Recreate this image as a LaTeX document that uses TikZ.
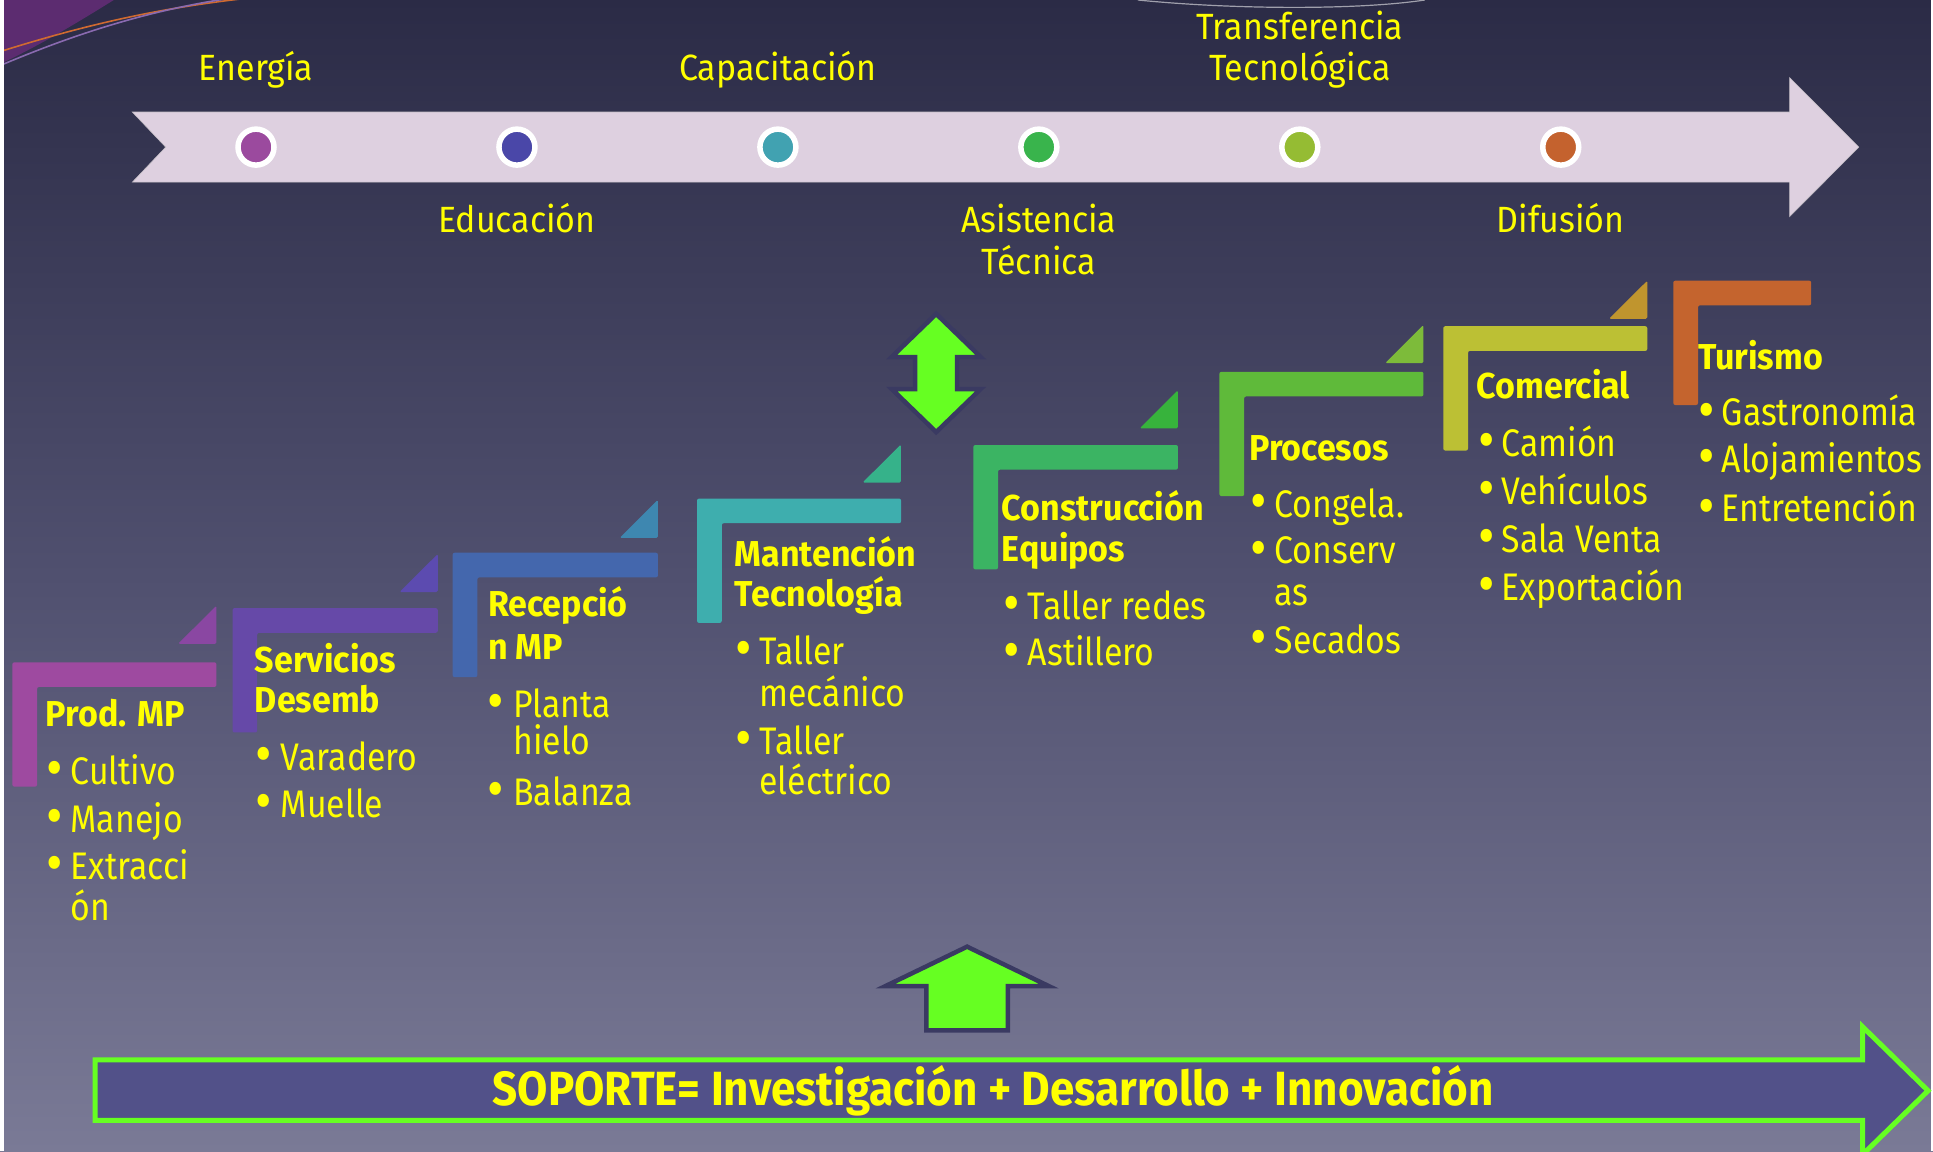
\documentclass[tikz,border=0pt]{standalone}
\usepackage{fontspec}
\setmainfont{Fira Sans}[FakeStretch=0.88]
\newfontfamily\lblfont{Fira Sans}[FakeStretch=0.93]
\newfontfamily\ttlfont{Fira Sans}[FakeStretch=0.945]
\newfontfamily\sopfont{Fira Sans}[FakeStretch=0.915]
\definecolor{bgtop}{HTML}{2B2B46}
\definecolor{bgmid}{HTML}{50506F}
\definecolor{bgbot}{HTML}{7A7A96}
\definecolor{ribbon}{HTML}{DED0E0}
\definecolor{txt}{HTML}{FFFF00}
\definecolor{neon}{HTML}{66FF22}
\definecolor{arrowedge}{HTML}{3A3A62}
\definecolor{soporte}{HTML}{525189}
\definecolor{swoosh}{HTML}{5C2C70}
\definecolor{lorange}{HTML}{D06A30}
\definecolor{llav}{HTML}{8A6AB0}
\definecolor{c1}{HTML}{9B4A9E}
\definecolor{c2}{HTML}{4A47A8}
\definecolor{c3}{HTML}{41A2B1}
\definecolor{c4}{HTML}{39B44C}
\definecolor{c5}{HTML}{95BC33}
\definecolor{c6}{HTML}{C4622E}
\definecolor{s1}{HTML}{9E4AA0}\definecolor{t1}{HTML}{8A47A2}
\definecolor{s2}{HTML}{6649A8}\definecolor{t2}{HTML}{5C4BB0}
\definecolor{s3}{HTML}{4467AD}\definecolor{t3}{HTML}{3E87B0}
\definecolor{s4}{HTML}{3EAEAE}\definecolor{t4}{HTML}{36B28A}
\definecolor{s5}{HTML}{3BB463}\definecolor{t5}{HTML}{37B33C}
\definecolor{s6}{HTML}{5FBA3A}\definecolor{t6}{HTML}{7DBB3A}
\definecolor{s7}{HTML}{BCC034}\definecolor{t7}{HTML}{C0952E}
\definecolor{s8}{HTML}{C4642E}
\newcommand\stepL[4]{% x y len color
  \fill[#4, rounded corners=2] (#1,#2) -- ++(#3,0) -- ++(0,20) -- ++(-#3+20,0) -- ++(0,81) -- ++(-20,0) -- cycle;}
\newcommand\stepT[3]{% right bottom color
  \fill[#3, rounded corners=1.5] (#1,#2) -- ++(-31,0) -- ++(31,-31) -- cycle;}
\newcommand\bigbul{\raisebox{-3.2pt}{\scalebox{1.5}{\textbullet}}}
\begin{document}
\begin{tikzpicture}[x=1.2367pt,y=-1.231pt,
 lbl/.style={text=txt, font=\lblfont\fontsize{36.5}{40}\selectfont, inner sep=0, anchor=base, text height=26pt, text depth=8pt},
 ttl/.style={text=txt, font=\ttlfont\bfseries\fontsize{36}{40}\selectfont, inner sep=0, anchor=base west, text height=26pt, text depth=8pt},
 itm/.style={text=txt, font=\fontsize{38.4}{44}\selectfont, inner sep=0, anchor=base west, text height=28pt, text depth=8pt},
 bul/.style={text=txt, font=\fontsize{38.4}{44}\selectfont, inner sep=0, anchor=base, text height=20pt, text depth=0pt},
 dot/.style={circle, draw=white, line width=5.5pt, minimum size=36pt, inner sep=0},
 bigarrow/.style={fill=neon, draw=arrowedge, line width=4.5pt, line join=miter},
 soparrow/.style={fill=soporte, draw=neon, line width=5pt, line join=miter}]
\useasboundingbox (0,0) rectangle (1563,935);
\shade[top color=bgtop, bottom color=bgbot, middle color=bgmid] (0,0) rectangle (1563,935);
% top-left swoosh
\fill[swoosh] (0,0) -- (92,0) .. controls (60,20) and (30,38) .. (0,52) -- cycle;
\draw[lorange, line width=1.6pt] (3,41) .. controls (70,20) and (130,6) .. (205,-2);
\draw[llav, line width=1.6pt] (3,52) .. controls (60,28) and (120,8) .. (190,-2);
\draw[white!55!bgtop, line width=1.2pt] (920,0) .. controls (1000,8) and (1100,8) .. (1152,0);
% edge strips
\fill[white] (0,0) rectangle (3,935);
\fill[white] (1561,0) rectangle (1563,935);
% ribbon arrow
\fill[ribbon, draw=ribbon!70!black!60, line width=0.6pt] (107,91) -- (1447,91) -- (1447,63) -- (1503,119.5) -- (1447,176) -- (1447,148) -- (107,148) -- (134,119.5) -- cycle;
\node[dot, fill=c1] (d1) at (207,119.5) {};
\node[dot, fill=c2] (d2) at (418,119.5) {};
\node[dot, fill=c3] (d3) at (629,119.5) {};
\node[dot, fill=c4] (d4) at (840,119.5) {};
\node[dot, fill=c5] (d5) at (1051,119.5) {};
\node[dot, fill=c6] (d6) at (1262,119.5) {};
\node[lbl] (lEne) at (207,65) {Energía};
\node[lbl] (lCap) at (629,65) {Capacitación};
\node[lbl] (lTr1) at (1051,32) {Transferencia};
\node[lbl] (lTr2) at (1051,65) {Tecnológica};
\node[lbl] (lEdu) at (418,189) {Educación};
\node[lbl] (lAs1) at (840,189) {Asistencia};
\node[lbl] (lAs2) at (840,223) {Técnica};
\node[lbl] (lDif) at (1262,189) {Difusión};
% steps
\stepL{10}{538}{165}{s1} \stepT{175}{523}{t1}
\stepL{188}{494}{166}{s2} \stepT{354}{481}{t2}
\stepL{366}{449}{166}{s3} \stepT{532}{437}{t3}
\stepL{563.6}{405}{165}{s4} \stepT{728.5}{392}{t4}
\stepL{787}{361.5}{165.5}{s5} \stepT{952.5}{348}{t5}
\stepL{986}{302}{165}{s6} \stepT{1151}{295}{t6}
\stepL{1167}{265}{165}{s7} \stepT{1332}{259}{t7}
\stepL{1353}{228}{111.5}{s8}
% step 1
\node[ttl] (h1) at (37,590.5) {Prod. MP};
\node[bul] (b11) at (44,637) {\bigbul}; \node[itm] (i11) at (57,637) {Cultivo};
\node[bul] (b12) at (44,676) {\bigbul}; \node[itm] (i12) at (57,676) {Manejo};
\node[bul] (b13) at (44,714.5) {\bigbul}; \node[itm] (i13) at (57,714.5) {Extracci};
\node[itm] (i13b) at (57,747.5) {ón};
% step 2
\node[ttl] (h2a) at (206,546) {Servicios};
\node[ttl] (h2b) at (206,579) {Desemb};
\node[bul] (b21) at (213,626) {\bigbul}; \node[itm] (i21) at (227,626) {Varadero};
\node[bul] (b22) at (213,664) {\bigbul}; \node[itm] (i22) at (227,664) {Muelle};
% step 3
\node[ttl] (h3a) at (394.5,501) {Recepció};
\node[ttl] (h3b) at (394.5,536) {n MP};
\node[bul] (b31) at (401,582.5) {\bigbul}; \node[itm] (i31) at (415,582.5) {Planta};
\node[itm] (i31b) at (415,613) {hielo};
\node[bul] (b32) at (401,654) {\bigbul}; \node[itm] (i32) at (415,654) {Balanza};
% step 4
\node[ttl] (h4a) at (594,460.5) {Mantención};
\node[ttl] (h4b) at (594,493) {Tecnología};
\node[bul] (b41) at (601,540) {\bigbul}; \node[itm] (i41) at (614,540) {Taller};
\node[itm] (i41b) at (614,573.5) {mecánico};
\node[bul] (b42) at (601,612.5) {\bigbul}; \node[itm] (i42) at (614,612.5) {Taller};
\node[itm] (i42b) at (614,645) {eléctrico};
% step 5
\node[ttl] (h5a) at (810,423) {Construcción};
\node[ttl] (h5b) at (810,456.5) {Equipos};
\node[bul] (b51) at (818,503) {\bigbul}; \node[itm] (i51) at (831,503) {Taller redes};
\node[bul] (b52) at (818,541) {\bigbul}; \node[itm] (i52) at (831,541) {Astillero};
% step 6
\node[ttl] (h6) at (1010,374) {Procesos};
\node[bul] (b61) at (1018,420) {\bigbul}; \node[itm] (i61) at (1030.5,420) {Congela.};
\node[bul] (b62) at (1018,458) {\bigbul}; \node[itm] (i62) at (1030.5,458) {Conserv};
\node[itm] (i62b) at (1030.5,492) {as};
\node[bul] (b63) at (1018,530.5) {\bigbul}; \node[itm] (i63) at (1030.5,530.5) {Secados};
% step 7
\node[ttl] (h7) at (1194,324) {Comercial};
\node[bul] (b71) at (1202,371) {\bigbul}; \node[itm] (i71) at (1214,371) {Camión};
\node[bul] (b72) at (1202,410) {\bigbul}; \node[itm] (i72) at (1214,410) {Vehículos};
\node[bul] (b73) at (1202,449) {\bigbul}; \node[itm] (i73) at (1214,449) {Sala Venta};
\node[bul] (b74) at (1202,488) {\bigbul}; \node[itm] (i74) at (1214,488) {Exportación};
% step 8
\node[ttl] (h8) at (1373,300) {Turismo};
\node[bul] (b81) at (1380,346) {\bigbul}; \node[itm] (i81) at (1392,346) {Gastronomía};
\node[bul] (b82) at (1380,384) {\bigbul}; \node[itm] (i82) at (1392,384) {Alojamientos};
\node[bul] (b83) at (1380,424) {\bigbul}; \node[itm] (i83) at (1392,424) {Entretención};
% double arrow
\draw[bigarrow] (757,255) -- (793,290) -- (774,290) -- (774,316) -- (793,316) -- (757,351) -- (721,316) -- (740,316) -- (740,290) -- (721,290) -- cycle;
% up arrow
\draw[bigarrow] (782,769) -- (848,801) -- (815,801) -- (815,837) -- (749,837) -- (749,801) -- (716,801) -- cycle;
% support arrow
\draw[soparrow] (77,861) -- (1506,861) -- (1506,834) -- (1559,886) -- (1506,938) -- (1506,910) -- (77,910) -- cycle;
\node[text=txt, font=\sopfont\bfseries\fontsize{48}{52}\selectfont, inner sep=0, anchor=base] (sop) at (803,898) {SOPORTE= Investigación + Desarrollo + Innovación};
\end{tikzpicture}
\end{document}
